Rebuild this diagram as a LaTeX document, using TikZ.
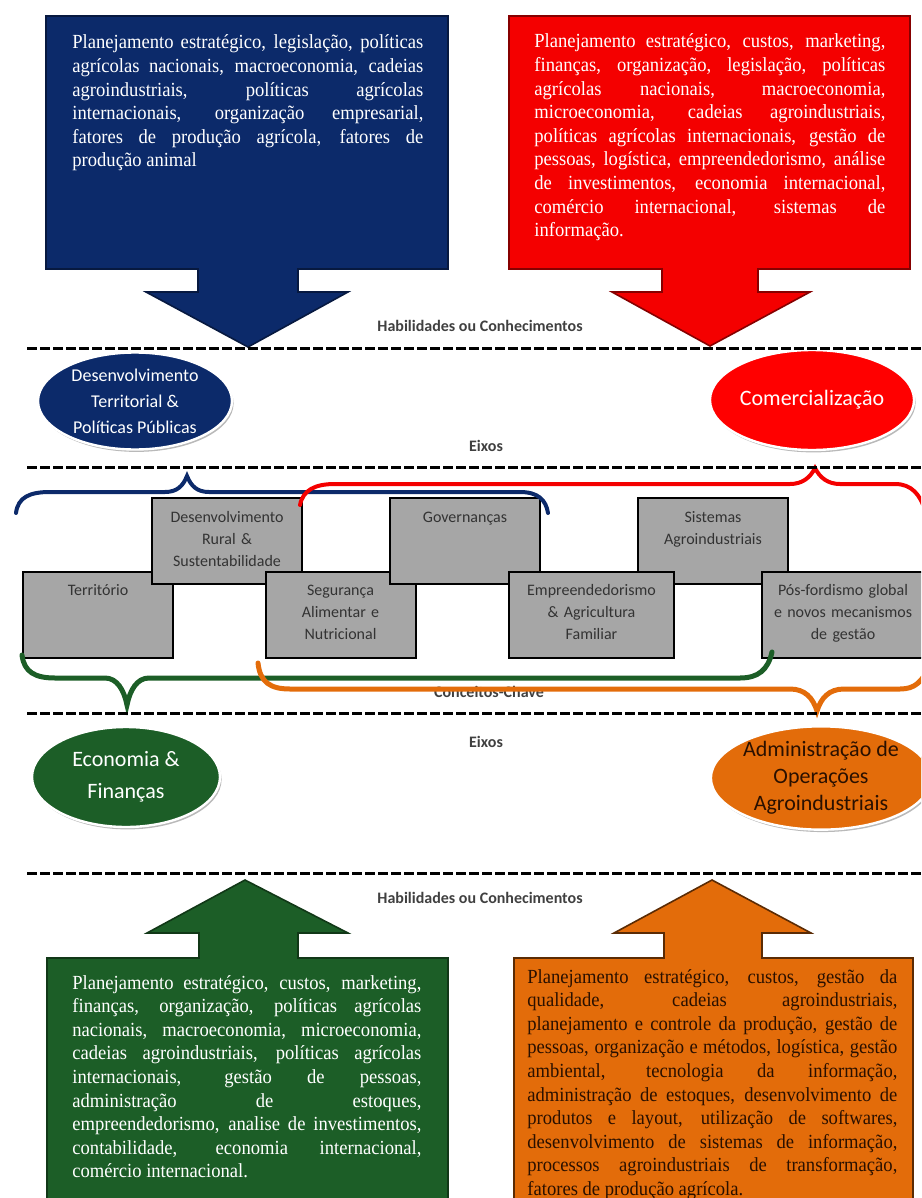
\documentclass[tikz,border=0pt]{standalone}
\usepackage{fontspec}
\setmainfont{Liberation Serif}
\newfontfamily\bodyfont[FakeStretch=0.93]{Liberation Serif}
\newfontfamily\labelfont{Carlito}
\usetikzlibrary{shapes.geometric, shadows}
\tolerance=9999
\hbadness=10000
\hyphenpenalty=10000
\definecolor{navyc}{HTML}{0C2A6A}
\definecolor{redc}{HTML}{F40000}
\definecolor{greenc}{HTML}{1C5E27}
\definecolor{orangec}{HTML}{E36C0A}
\definecolor{boxgray}{HTML}{A6A6A6}
\definecolor{darkbrown}{HTML}{2A1000}
\tikzstyle{skillText} = [text width=175.5pt, align=justify, inner sep=0pt, anchor=base west, font=\bodyfont\fontsize{10}{11.8}\selectfont]
\tikzstyle{concept} = [rectangle, draw=black, line width=1pt, fill=boxgray, text=black!80, text width=71pt, inner xsep=2pt, inner ysep=5pt, text height=7pt, text depth=26pt, align=center, font=\labelfont\fontsize{8}{11}\selectfont]
\tikzstyle{axis} = [ellipse, draw=white, line width=1.2pt, inner sep=0pt, align=center, drop shadow={shadow xshift=0.8pt, shadow yshift=-1.2pt, fill=black!55}]
\tikzstyle{brace} = [line width=2pt, line cap=round]
\tikzstyle{divider} = [line width=1.5pt, dash pattern=on 5pt off 1.5pt]
\tikzstyle{tag} = [font=\labelfont\bfseries\fontsize{8}{10}\selectfont, text=black!75]

\begin{document}
\begin{tikzpicture}[x=0.5pt, y=-0.5pt]
	\useasboundingbox (0,0) rectangle (921,1198);
	\clip (0,0) rectangle (921,1198);

	% skill callouts, top
	\filldraw [navyc, draw=navyc!60!black, line width=0.8pt] (46,16) -- (448,16) -- (448,269) -- (298,269) -- (298,292) -- (348,292) -- (248,347) -- (146,292) -- (198,292) -- (198,269) -- (46,269) -- cycle;
	\filldraw [redc, draw=redc!55!black, line width=0.8pt] (509,16) -- (910,16) -- (910,269) -- (758,269) -- (758,292) -- (810,292) -- (710,346) -- (612,292) -- (662,292) -- (662,269) -- (509,269) -- cycle;
	\node (dtppSkills) [skillText, text=white] at (72,49) {Planejamento estratégico, legislação, políticas\linebreak agrícolas nacionais, macroeconomia, cadeias\linebreak agroindustriais, políticas agrícolas\linebreak internacionais, organização empresarial,\linebreak fatores de produção agrícola, fatores de\linebreak produção animal};
	\node (comSkills) [skillText, text=white] at (534,48) {Planejamento estratégico, custos, marketing,\linebreak finanças, organização, legislação, políticas\linebreak agrícolas nacionais, macroeconomia,\linebreak microeconomia, cadeias agroindustriais,\linebreak políticas agrícolas internacionais, gestão de\linebreak pessoas, logística, empreendedorismo, análise\linebreak de investimentos, economia internacional,\linebreak comércio internacional, sistemas de\linebreak informação.};

	% skill callouts, bottom
	\filldraw [greenc, draw=greenc!60!black, line width=0.8pt] (47,1205) -- (47,958) -- (199,958) -- (199,933) -- (147,933) -- (245,880) -- (348,933) -- (298,933) -- (298,958) -- (448,958) -- (448,1205) -- cycle;
	\filldraw [orangec, draw=orangec!40!black, line width=0.8pt] (514,1205) -- (514,958) -- (664,958) -- (664,933) -- (614,933) -- (712,880) -- (811,933) -- (762,933) -- (762,958) -- (913,958) -- (913,1205) -- cycle;
	\node (ecoSkills) [skillText, text=white, text width=174.5pt] at (72,989) {Planejamento estratégico, custos, marketing,\linebreak finanças, organização, políticas agrícolas\linebreak nacionais, macroeconomia, microeconomia,\linebreak cadeias agroindustriais, políticas agrícolas\linebreak internacionais, gestão de pessoas,\linebreak administração de estoques,\linebreak empreendedorismo, analise de investimentos,\linebreak contabilidade, economia internacional,\linebreak comércio internacional.};
	\node (admSkills) [skillText, text=darkbrown, text width=185pt] at (527,983) {Planejamento estratégico, custos, gestão da\linebreak qualidade, cadeias agroindustriais,\linebreak planejamento e controle da produção, gestão de\linebreak pessoas, organização e métodos, logística, gestão\linebreak ambiental, tecnologia da informação,\linebreak administração de estoques, desenvolvimento de\linebreak produtos e layout, utilização de softwares,\linebreak desenvolvimento de sistemas de informação,\linebreak processos agroindustriais de transformação,\linebreak fatores de produção agrícola.};

	% axes
	\node (dtpp) [axis, fill=navyc, text=white, minimum width=97pt, minimum height=48.5pt, font=\labelfont\fontsize{9}{13}\selectfont] at (135,401) {Desenvolvimento\\Territorial \&\\Políticas Públicas};
	\node (com) [axis, fill=red, text=white, minimum width=95.5pt, minimum height=50pt, font=\labelfont\fontsize{11}{13}\selectfont] at (812,400) {Comercialização};
	\node (eco) [axis, fill=greenc, text=white, minimum width=94pt, minimum height=50pt, font=\labelfont\fontsize{11}{16}\selectfont] at (126,777) {Economia \&\\Finanças};
	\node (adm) [axis, fill=orangec, text=darkbrown, minimum width=96pt, minimum height=51.5pt, font=\labelfont\fontsize{11}{13.5}\selectfont] at (821,778) {Administração de\\Operações\\Agroindustriais};

	% key concepts
	\node (territorio) [concept] at (98,614.5) {Território};
	\node (desRural) [concept] at (227,541) {Desenvolvimento\\Rural \&\\Sustentabilidade};
	\node (seguranca) [concept] at (340.5,614.5) {Segurança\\Alimentar e\\Nutricional};
	\node (governanca) [concept] at (465,541) {Governanças};
	\node (sistemas) [concept] at (713,541) {Sistemas\\Agroindustriais};
	\node (empreend) [concept, text width=78.5pt] at (591.5,614.5) {Empreendedorismo\\\& Agricultura\\Familiar};
	\node (posFord) [concept, text width=77pt] at (843,614.5) {Pós-fordismo global\\e novos mecanismos\\de gestão};

	% braces
	\draw [brace, navyc] (16,513) .. controls (18,497) and (30,492) .. (50,492) -- (165,492) .. controls (177,492) and (183,486) .. (187,476) .. controls (191,486) and (197,492) .. (209,492) -- (520,492) .. controls (538,492) and (546,500) .. (548,513);
	\draw [brace, redc] (300,505) .. controls (303,490) and (315,484) .. (335,484) -- (790,484) .. controls (802,484) and (810,478) .. (815,468) .. controls (820,478) and (828,484) .. (840,484) -- (895,484) .. controls (912,484) and (920,495) .. (925,510);
	\node (conceitos) [tag] at (489,692) {Conceitos-Chave};
	\draw [brace, greenc, line width=2.5pt] (22,655) .. controls (24,672) and (35,678) .. (55,678) -- (105,678) .. controls (117,678) and (124,690) .. (127,705) .. controls (130,690) and (137,678) .. (149,678) -- (740,678) .. controls (758,678) and (768,670) .. (772,652);
	\draw [brace, orangec, line width=2.5pt] (258,663) .. controls (260,682) and (270,689) .. (290,689) -- (790,689) .. controls (805,689) and (813,698) .. (817,711) .. controls (821,698) and (829,689) .. (844,689) -- (900,689) .. controls (915,689) and (922,682) .. (930,665);

	% section labels and dividers
	\node (skillsTop) [tag] at (480,326) {Habilidades ou Conhecimentos};
	\node (eixosTop) [tag] at (486,446) {Eixos};
	\node (eixosBottom) [tag] at (486,742) {Eixos};
	\node (skillsBottom) [tag] at (480,898) {Habilidades ou Conhecimentos};
	\draw [divider] (27,348) -- (921,348);
	\draw [divider] (27,467) -- (921,467);
	\draw [divider] (27,713) -- (921,713);
	\draw [divider] (27,873) -- (921,873);
\end{tikzpicture}
\end{document}
